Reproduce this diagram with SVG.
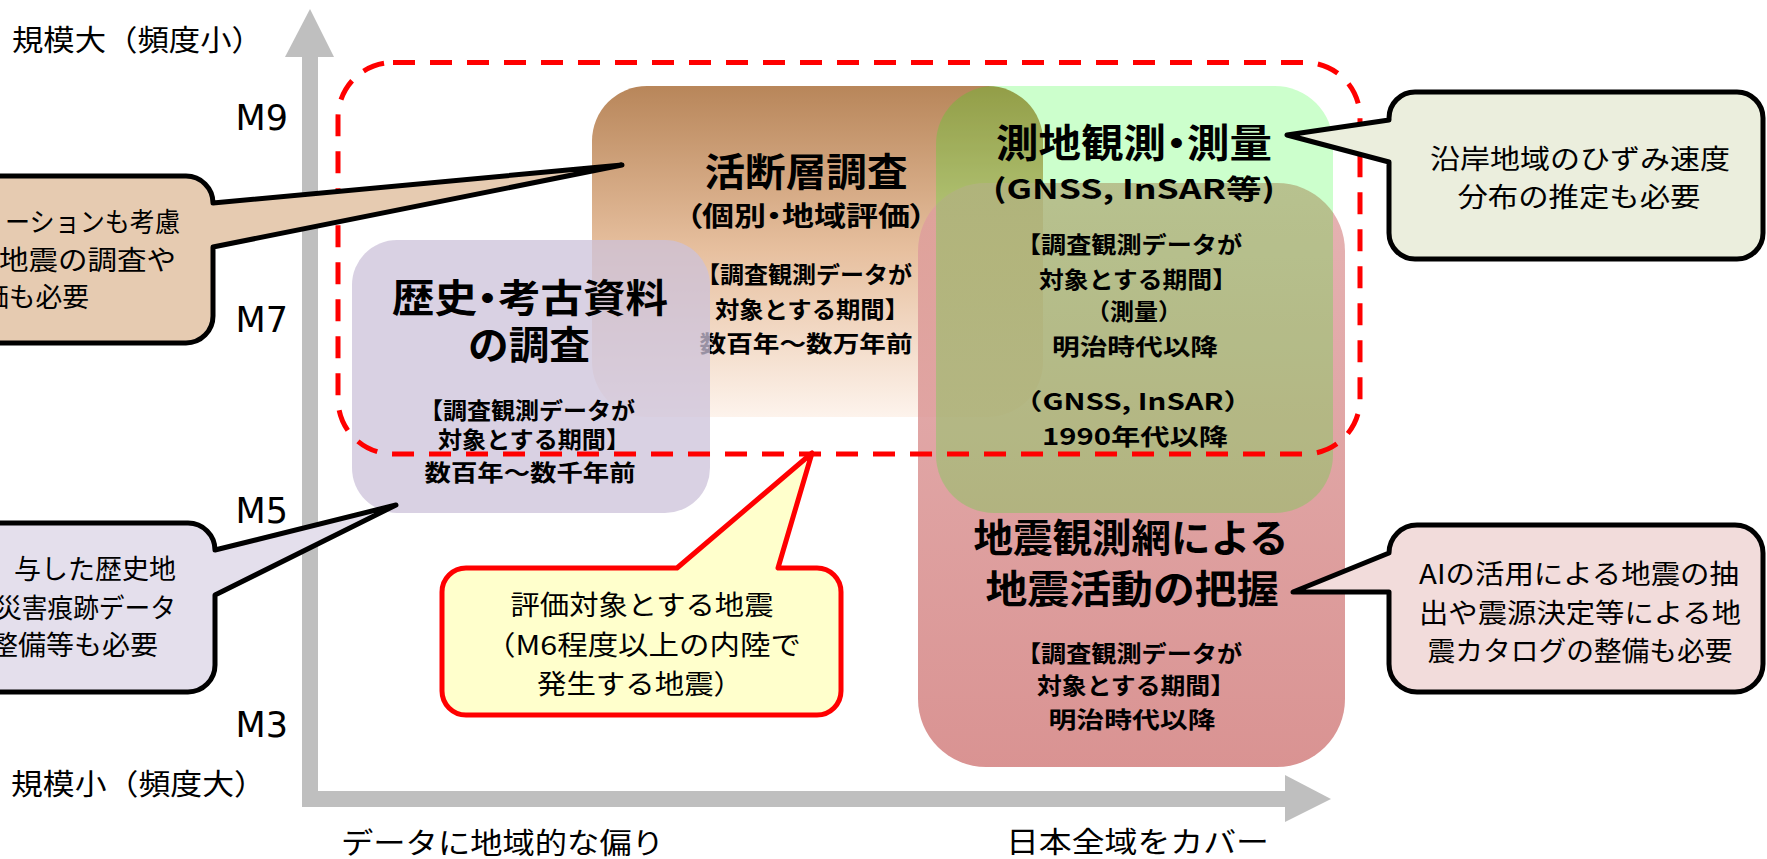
<svg xmlns="http://www.w3.org/2000/svg" width="1767" height="859" viewBox="0 0 1767 859">
<defs>
<style>
.t{font-family:"Noto Sans CJK JP","Noto Sans",sans-serif;fill:#000}
.b{font-weight:700}
.m{text-anchor:middle}
.p{font-feature-settings:"palt" 1}
.ax{font-size:29px}
.mg{font-family:"DejaVu Sans","Noto Sans",sans-serif;font-size:35px;text-anchor:end}
.h1{font-size:39px}
.h2{font-size:27px}
.s{font-size:23px}
.c{font-size:27px}
.cl{stroke:#000;stroke-width:5;stroke-linejoin:round}
.axis{fill:#bfbfbf}
</style>
<linearGradient id="gBrown" x1="0" y1="0" x2="0" y2="1">
<stop offset="0" stop-color="#b8865a"/>
<stop offset="0.5" stop-color="#e7c09f"/>
<stop offset="1" stop-color="#fdf3ec"/>
</linearGradient>
<linearGradient id="gPink" x1="0" y1="0" x2="0" y2="1">
<stop offset="0" stop-color="#dfa0a0"/>
<stop offset="1" stop-color="#d07877"/>
</linearGradient>
</defs>
<rect width="1767" height="859" fill="#fff"/>

<g id="axes">
<rect class="axis" x="302" y="55" width="16" height="752"/>
<polygon class="axis" points="310,9 334,57 285,57"/>
<rect class="axis" x="302" y="791" width="985" height="16"/>
<polygon class="axis" points="1331,799 1285,775 1285,822"/>
<text class="t ax" x="12" y="51" textLength="251" lengthAdjust="spacingAndGlyphs">規模大（頻度小）</text>
<text class="t ax" x="11" y="795" textLength="255" lengthAdjust="spacingAndGlyphs">規模小（頻度大）</text>
<text class="t ax" x="341" y="854" textLength="323" lengthAdjust="spacingAndGlyphs">データに地域的な偏り</text>
<text class="t ax" x="1006" y="853" textLength="263" lengthAdjust="spacingAndGlyphs">日本全域をカバー</text>
<text class="mg" x="288" y="130">M9</text>
<text class="mg" x="288" y="332">M7</text>
<text class="mg" x="288" y="523">M5</text>
<text class="mg" x="288" y="737">M3</text>
</g>

<g id="node-katsudanso">
<rect x="592" y="86" width="451" height="331" rx="55" fill="url(#gBrown)"/>
</g>
<g id="node-jishin-kansokumo">
<rect x="918" y="183" width="427" height="584" rx="68" fill="url(#gPink)" fill-opacity="0.8"/>
</g>
<g id="node-sokuchi">
<rect x="936" y="86" width="397" height="427" rx="58" fill="#00ff00" fill-opacity="0.2"/>
</g>
<g id="node-katsudanso-text">
<text class="t b m h1" x="806" y="186" textLength="203" lengthAdjust="spacingAndGlyphs">活断層調査</text>
<text class="t b m h2 p" x="806" y="226" textLength="240" lengthAdjust="spacingAndGlyphs">（個別・地域評価）</text>
<text class="t b m s" x="804" y="283" textLength="216" lengthAdjust="spacingAndGlyphs">【調査観測データが</text>
<text class="t b m s" x="812" y="318" textLength="194" lengthAdjust="spacingAndGlyphs">対象とする期間】</text>
<text class="t b m s" x="806" y="352" textLength="213" lengthAdjust="spacingAndGlyphs">数百年～数万年前</text>
</g>
<g id="node-rekishi">
<rect x="352" y="240" width="358" height="273" rx="45" fill="#ccc1da" fill-opacity="0.75"/>
<text class="t b m h1 p" x="530" y="312" textLength="276" lengthAdjust="spacingAndGlyphs">歴史・考古資料</text>
<text class="t b m h1" x="529" y="359" textLength="122" lengthAdjust="spacingAndGlyphs">の調査</text>
<text class="t b m s" x="527" y="419" textLength="216" lengthAdjust="spacingAndGlyphs">【調査観測データが</text>
<text class="t b m s" x="534" y="448" textLength="192" lengthAdjust="spacingAndGlyphs">対象とする期間】</text>
<text class="t b m s" x="530" y="481" textLength="211" lengthAdjust="spacingAndGlyphs">数百年～数千年前</text>
</g>
<g id="node-sokuchi-text">
<text class="t b m h1 p" x="1134" y="157" textLength="276" lengthAdjust="spacingAndGlyphs">測地観測・測量</text>
<text class="t b m h2" x="1134" y="199" textLength="282" lengthAdjust="spacingAndGlyphs">(GNSS, InSAR等)</text>
<text class="t b m s" x="1129" y="253" textLength="226" lengthAdjust="spacingAndGlyphs">【調査観測データが</text>
<text class="t b m s" x="1138" y="288" textLength="198" lengthAdjust="spacingAndGlyphs">対象とする期間】</text>
<text class="t b m s" x="1134" y="320" textLength="96" lengthAdjust="spacingAndGlyphs">（測量）</text>
<text class="t b m s" x="1135" y="355" textLength="166" lengthAdjust="spacingAndGlyphs">明治時代以降</text>
<text class="t b m s" x="1133" y="410" textLength="240" lengthAdjust="spacingAndGlyphs">（GNSS, InSAR）</text>
<text class="t b m s" x="1135" y="445" textLength="186" lengthAdjust="spacingAndGlyphs">1990年代以降</text>
</g>
<g id="node-jishin-text">
<text class="t b m h1" x="1131" y="552" textLength="315" lengthAdjust="spacingAndGlyphs">地震観測網による</text>
<text class="t b m h1" x="1132" y="603" textLength="293" lengthAdjust="spacingAndGlyphs">地震活動の把握</text>
<text class="t b m s" x="1129" y="662" textLength="226" lengthAdjust="spacingAndGlyphs">【調査観測データが</text>
<text class="t b m s" x="1136" y="694" textLength="198" lengthAdjust="spacingAndGlyphs">対象とする期間】</text>
<text class="t b m s" x="1132" y="728" textLength="167" lengthAdjust="spacingAndGlyphs">明治時代以降</text>
</g>

<g id="node-target-range">
<rect x="338" y="62.5" width="1022" height="391.5" rx="55" fill="none" stroke="#ff0000" stroke-width="5" stroke-dasharray="22 15"/>
</g>

<g id="connectors"></g>

<g id="callout-katsudanso">
<path class="cl" fill="#e6cbb1" d="M-30,176 H186 A27,27 0 0 1 213,203 L622,165 L213,247 V316 A27,27 0 0 1 186,343 H-30 Z"/>
<text class="t c" x="5" y="232" textLength="175" lengthAdjust="spacingAndGlyphs">ーションも考慮</text>
<text class="t c" x="-1" y="270" textLength="177" lengthAdjust="spacingAndGlyphs">地震の調査や</text>
<text class="t c" x="-18" y="307" textLength="107" lengthAdjust="spacingAndGlyphs">価も必要</text>
</g>
<g id="callout-rekishi">
<path class="cl" fill="#e4dfec" d="M-30,523 H188 A27,27 0 0 1 215,550 L396,505 L215,595 V665 A27,27 0 0 1 188,692 H-30 Z"/>
<text class="t c" x="14" y="579" textLength="162" lengthAdjust="spacingAndGlyphs">与した歴史地</text>
<text class="t c" x="-4" y="618" textLength="180" lengthAdjust="spacingAndGlyphs">災害痕跡データ</text>
<text class="t c" x="-10" y="655" textLength="168" lengthAdjust="spacingAndGlyphs">整備等も必要</text>
</g>
<g id="callout-sokuchi">
<path class="cl" fill="#ebeedd" d="M1415,92 H1737 A26,26 0 0 1 1763,118 V233 A26,26 0 0 1 1737,259 H1415 A26,26 0 0 1 1389,233 V162 L1287,135 L1389,120 V118 A26,26 0 0 1 1415,92 Z"/>
<text class="t c m" x="1580" y="169" textLength="300" lengthAdjust="spacingAndGlyphs">沿岸地域のひずみ速度</text>
<text class="t c m" x="1579" y="207" textLength="243" lengthAdjust="spacingAndGlyphs">分布の推定も必要</text>
</g>
<g id="callout-jishin">
<path class="cl" fill="#f2dcdb" d="M1417,525 H1735 A28,28 0 0 1 1763,553 V664 A28,28 0 0 1 1735,692 H1417 A28,28 0 0 1 1389,664 V592 L1293,592 L1389,553 A28,28 0 0 1 1417,525 Z"/>
<text class="t c m" x="1579" y="584" textLength="320" lengthAdjust="spacingAndGlyphs">AIの活用による地震の抽</text>
<text class="t c m" x="1580" y="623" textLength="322" lengthAdjust="spacingAndGlyphs">出や震源決定等による地</text>
<text class="t c m" x="1580" y="661" textLength="305" lengthAdjust="spacingAndGlyphs">震カタログの整備も必要</text>
</g>
<g id="callout-target">
<path fill="#ffffcc" stroke="#ff0000" stroke-width="5" stroke-linejoin="round" d="M466,568 H677 L812,453 L778,568 H817 A24,24 0 0 1 841,592 V691 A24,24 0 0 1 817,715 H466 A24,24 0 0 1 442,691 V592 A24,24 0 0 1 466,568 Z"/>
<text class="t c m" x="642" y="615" textLength="263" lengthAdjust="spacingAndGlyphs">評価対象とする地震</text>
<text class="t c m" x="643" y="655" textLength="316" lengthAdjust="spacingAndGlyphs">（M6程度以上の内陸で</text>
<text class="t c m" x="640" y="694" textLength="206" lengthAdjust="spacingAndGlyphs">発生する地震）</text>
</g>
</svg>
